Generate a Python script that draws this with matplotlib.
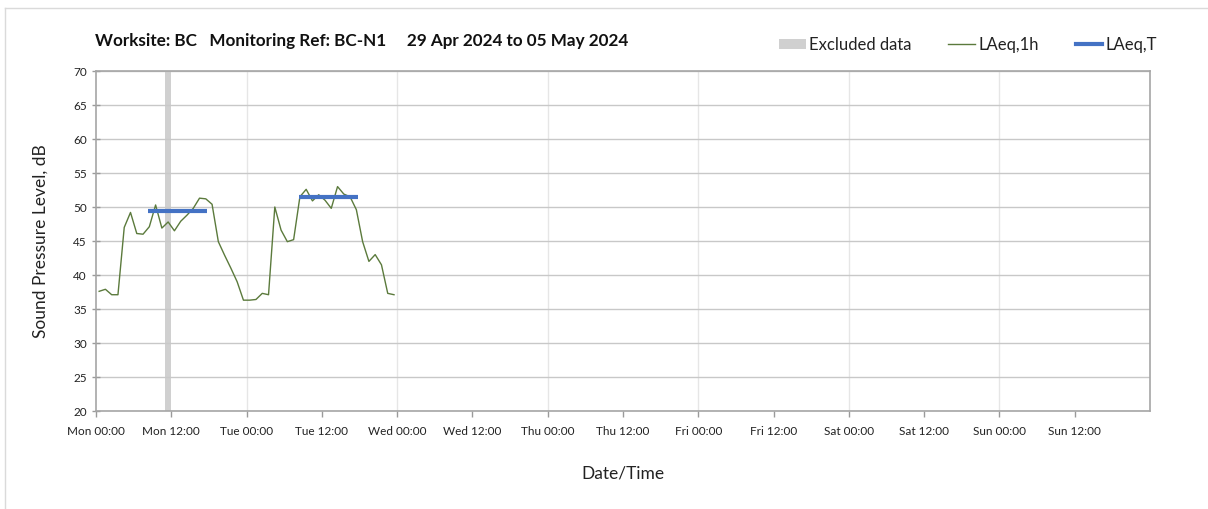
import matplotlib.pyplot as plt
from matplotlib.patches import Patch
from matplotlib.lines import Line2D
import numpy as np

plt.rcParams['font.family'] = ['Lato', 'DejaVu Sans']

# hourly LAeq,1h, one value per hour from Mon 00:00 (plotted at the middle of the hour)
laeq_1h = [37.6, 37.9, 37.1, 37.1, 47.0, 49.2, 46.1, 46.0, 47.1, 50.3, 46.9, 47.8,
           46.5, 47.9, 48.8, 49.8, 51.3, 51.2, 50.4, 44.9, 42.9, 41.0, 39.0, 36.3,
           36.3, 36.4, 37.3, 37.1, 50.0, 46.6, 44.9, 45.2, 51.5, 52.6, 50.9, 51.8,
           51.0, 49.8, 53.0, 51.9, 51.5, 49.6, 44.9, 42.0, 43.0, 41.5, 37.3, 37.1]
hours = np.arange(len(laeq_1h)) + 0.5

# LAeq,T periods (start hour, end hour, level)
laeq_t_start = [8.3, 32.3]
laeq_t_end = [17.7, 41.7]
laeq_t_level = [49.4, 51.4]

# excluded periods (start hour, end hour)
excl_start = [11.0]
excl_end = [12.0]

tick_hours = np.arange(0, 168, 12)
tick_labels = ['Mon 00:00', 'Mon 12:00', 'Tue 00:00', 'Tue 12:00', 'Wed 00:00', 'Wed 12:00',
               'Thu 00:00', 'Thu 12:00', 'Fri 00:00', 'Fri 12:00', 'Sat 00:00', 'Sat 12:00',
               'Sun 00:00', 'Sun 12:00']

fig = plt.figure(figsize=(12.08, 5.09), dpi=100)
ax = fig.add_axes([96/1208, 98/509, 1054/1208, 340/509])

grid_c = '#c8c8c8'
for s, e in zip(excl_start, excl_end):
    ax.axvspan(s, e, color='#d0d0d0', lw=0, zorder=1)
for d in range(24, 168, 24):
    ax.axvline(d, color='#e6e6e6', lw=1, zorder=0)
ax.set_yticks(np.arange(20, 71, 5))
ax.yaxis.grid(True, color=grid_c, lw=1, zorder=0)

ax.plot(hours, laeq_1h, color='#5b7a3c', lw=1.0, zorder=3)
for s, e, v in zip(laeq_t_start, laeq_t_end, laeq_t_level):
    ax.plot([s, e], [v, v], color='#4472c4', lw=3, solid_capstyle='butt', zorder=4)

ax.set_xlim(0, 168)
ax.set_ylim(20, 70)
ax.set_xticks(tick_hours)
ax.set_xticklabels(tick_labels)
ax.tick_params(axis='both', colors='#9a9a9a', labelcolor='#222222', labelsize=8.5,
               length=4, width=1)
ax.tick_params(axis='x', pad=7)
ax.tick_params(axis='y', direction='inout', length=6)
for sp in ax.spines.values():
    sp.set_color('#a6a6a6')
    sp.set_linewidth(1.2)

ax.set_ylabel('Sound Pressure Level, dB', fontsize=12.5, color='#222222', labelpad=18)
ax.set_xlabel('Date/Time', fontsize=12.5, color='#222222', labelpad=20)

fig.text(95/1208, 1 - 41/509, 'Worksite: BC   Monitoring Ref: BC-N1     29 Apr 2024 to 05 May 2024',
         fontsize=12.3, fontweight='bold', va='center', ha='left', color='#111111')

handles = [Patch(facecolor='#d0d0d0', edgecolor='none'),
           Line2D([0], [0], color='#5b7a3c', lw=1.0),
           Line2D([0], [0], color='#4472c4', lw=3)]
fig.legend(handles, ['Excluded data', 'LAeq,1h', 'LAeq,T'], ncol=3, frameon=False,
           loc='center right', bbox_to_anchor=(1172/1208, 1 - 45/509), fontsize=12,
           handlelength=1.6, handleheight=0.6, handletextpad=0.2, columnspacing=2.2,
           labelcolor='#222222')

# light frame around the chart
fig.add_artist(Line2D([5/1208, 1], [1 - 8/509, 1 - 8/509], color='#dadada', lw=1))
fig.add_artist(Line2D([5/1208, 5/1208], [0, 1 - 8/509], color='#dadada', lw=1))

fig.savefig('out.png', dpi=100)
